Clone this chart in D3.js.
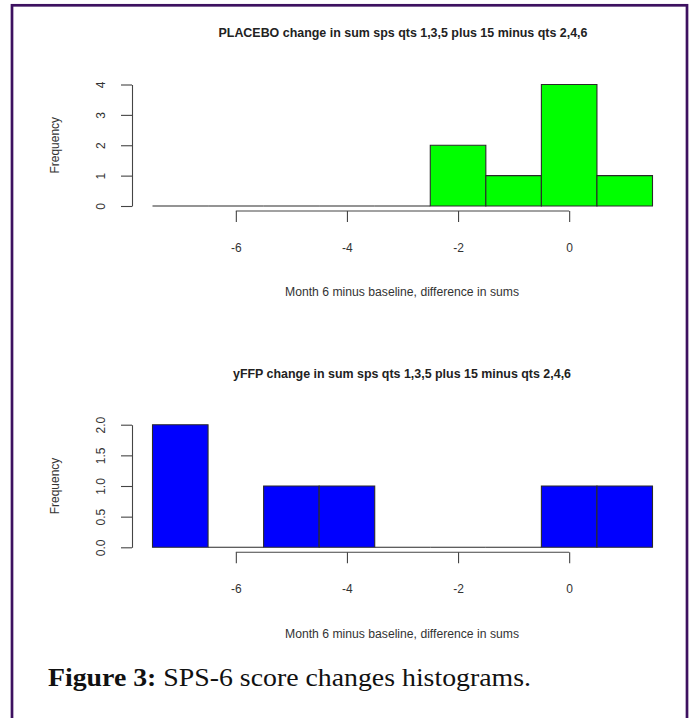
<!DOCTYPE html>
<html>
<head>
<meta charset="utf-8">
<script src="https://cdn.jsdelivr.net/npm/d3@7"></script>
<style>
  body { margin: 0; background: #fff; }
  text { font-family: "Liberation Sans", Arial, sans-serif; fill: #333; }
</style>
</head>
<body>
<div id="main"></div>
<script>
"use strict";

// histogram bin edges (width 1)
var breaks = [-7.5, -6.5, -5.5, -4.5, -3.5, -2.5, -1.5, -0.5, 0.5, 1.5];
var placeboCounts = [0, 0, 0, 0, 0, 2, 1, 4, 1];
var yffpCounts = [2, 0, 1, 1, 0, 0, 0, 1, 1];
var xTicks = [-6, -4, -2, 0];
var placeboYTicks = [0, 1, 2, 3, 4];
var yffpYTicks = [0, 0.5, 1, 1.5, 2];
var placeboTitle = "PLACEBO change in sum sps qts 1,3,5 plus 15 minus qts 2,4,6";
var yffpTitle = "yFFP change in sum sps qts 1,3,5 plus 15 minus qts 2,4,6";
var xLabel = "Month 6 minus baseline, difference in sums";
var yLabel = "Frequency";

var W = 689, H = 718;
var svg = d3.select("#main").append("svg").attr("width", W).attr("height", H);

svg.append("rect").attr("width", W).attr("height", H).attr("fill", "#fff");

// purple frame (open at the bottom)
svg.append("rect")
  .attr("x", 12).attr("y", 5.3)
  .attr("width", 675).attr("height", 800)
  .attr("fill", "none").attr("stroke", "#3d1160").attr("stroke-width", 2.7);

var x = d3.scaleLinear().domain([-7.5, 1.5]).range([152.5, 652.5]);
var plain = function(d) { return String(d); };

function drawPanel(opt) {
  var y = d3.scaleLinear().domain([0, d3.max(opt.yTicks)]).range([opt.base, opt.top]);
  var g = svg.append("g");

  g.append("text")
    .attr("x", opt.titleX).attr("y", opt.titleY)
    .attr("text-anchor", "middle")
    .attr("font-size", 12).attr("font-weight", "bold")
    .attr("textLength", opt.titleW).attr("lengthAdjust", "spacingAndGlyphs")
    .style("fill", "#222")
    .text(opt.title);

  var bins = opt.counts.map(function(c, i) {
    return { x0: breaks[i], x1: breaks[i + 1], n: c };
  });

  // paths so that empty bins still show as a flat line
  g.selectAll("path.bar").data(bins).enter().append("path")
    .attr("class", "bar")
    .attr("d", function(d) {
      var p = d3.path();
      p.rect(x(d.x0), y(d.n), x(d.x1) - x(d.x0), y(0) - y(d.n));
      return p.toString();
    })
    .attr("fill", opt.color)
    .attr("stroke", "#2a2a2a")
    .attr("stroke-width", 1.1);

  // y axis, R style
  var ya = g.append("g").attr("transform", "translate(132,0)")
    .call(d3.axisLeft(y).tickValues(opt.yTicks).tickSize(11).tickSizeOuter(0).tickFormat(opt.yFmt));
  ya.select(".domain").attr("stroke", "#444").attr("stroke-width", 1.1);
  ya.selectAll(".tick line").attr("stroke", "#444").attr("stroke-width", 1.1);
  ya.selectAll(".tick text")
    .attr("transform", "rotate(-90)")
    .attr("x", 0).attr("y", -31).attr("dy", "0.35em")
    .attr("text-anchor", "middle")
    .attr("font-size", 12)
    .style("fill", "#333");

  // x axis: line only between first and last tick
  var xa = g.append("g").attr("transform", "translate(0," + (opt.base + 5) + ")")
    .call(d3.axisBottom(x).tickValues(xTicks).tickSize(11).tickSizeOuter(0).tickFormat(plain));
  xa.select(".domain").remove();
  xa.append("line")
    .attr("x1", x(xTicks[0])).attr("x2", x(xTicks[xTicks.length - 1]))
    .attr("stroke", "#444").attr("stroke-width", 1.1);
  xa.selectAll(".tick line").attr("stroke", "#444").attr("stroke-width", 1.1);
  xa.selectAll(".tick text")
    .attr("y", 37)
    .attr("dy", "0.35em")
    .attr("font-size", 12)
    .style("fill", "#333");

  g.append("text")
    .attr("x", 402).attr("y", opt.xLabY)
    .attr("text-anchor", "middle")
    .attr("font-size", 12)
    .attr("textLength", 234).attr("lengthAdjust", "spacingAndGlyphs")
    .style("fill", "#333")
    .text(xLabel);

  g.append("text")
    .attr("transform", "translate(59," + ((opt.base + opt.top) / 2) + ") rotate(-90)")
    .attr("text-anchor", "middle")
    .attr("font-size", 12)
    .style("fill", "#333")
    .text(yLabel);
}

drawPanel({
  title: placeboTitle, counts: placeboCounts, yTicks: placeboYTicks,
  yFmt: plain, color: "#00ff00",
  base: 206, top: 84.5, titleX: 403, titleY: 37, titleW: 369, xLabY: 296
});

drawPanel({
  title: yffpTitle, counts: yffpCounts, yTicks: yffpYTicks,
  yFmt: d3.format(".1f"), color: "#0000ff",
  base: 547.3, top: 424.7, titleX: 402, titleY: 378, titleW: 338, xLabY: 638
});

// caption
var cap = svg.append("text")
  .attr("x", 48).attr("y", 686)
  .attr("font-size", 25)
  .attr("textLength", 483).attr("lengthAdjust", "spacingAndGlyphs")
  .style("font-family", "'Liberation Serif', 'DejaVu Serif', serif")
  .style("fill", "#111");
cap.append("tspan").attr("font-weight", "bold").text("Figure 3:");
cap.append("tspan").text(" SPS-6 score changes histograms.");
</script>
</body>
</html>
